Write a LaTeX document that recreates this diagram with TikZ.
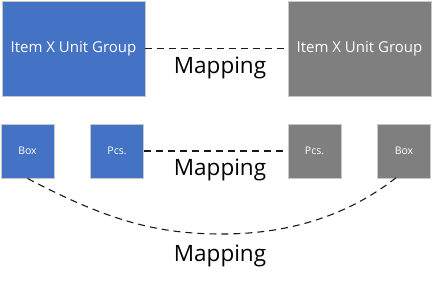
\documentclass[tikz,border=0pt]{standalone}
\usepackage{fontspec}
\setmainfont{Open Sans}
\definecolor{cblue}{HTML}{4472C4}
\definecolor{cgray}{HTML}{7F7F7F}
\definecolor{cedge}{HTML}{C8C8C8}
\begin{document}
\begin{tikzpicture}[x=1pt,y=-1pt,
  bigbox/.style={draw=cedge,line width=0.8pt,minimum width=143pt,minimum height=95pt,inner sep=0pt,text=white,font=\fontsize{15}{17}\selectfont},
  smallbox/.style={draw=cedge,line width=0.8pt,minimum width=53pt,minimum height=54pt,inner sep=0pt,text=white,font=\fontsize{10.5}{12}\selectfont},
  maplabel/.style={font=\fontsize{22.5}{24}\selectfont,text=black},
  link/.style={dash pattern=on 7pt off 5pt,line width=1.1pt,draw=black!90}]
\useasboundingbox (0,0) rectangle (433,283);
\node[bigbox,fill=cblue] (ga) at (73.5,48.5) {Item X Unit Group};
\node[bigbox,fill=cgray] (gb) at (359.5,48.5) {Item X Unit Group};
\node[smallbox,fill=cblue] (boxa) at (27.5,151) {Box};
\node[smallbox,fill=cblue] (pcsa) at (117,151) {Pcs.};
\node[smallbox,fill=cgray] (pcsb) at (314.5,151) {Pcs.};
\node[smallbox,fill=cgray] (boxb) at (404,151) {Box};
\draw[link] (ga.east) -- (gb.west);
\draw[link] (pcsa.east) -- (pcsb.west);
\draw[link] (boxa.south) .. controls (110,222) and (160,234) .. (222,234) .. controls (290,234) and (350,215) .. ([xshift=-5pt,yshift=3pt]boxb.south);
\node[maplabel] (m1) at (220,68) {Mapping};
\node[maplabel] (m2) at (220,170) {Mapping};
\node[maplabel] (m3) at (220,256) {Mapping};
\end{tikzpicture}
\end{document}
